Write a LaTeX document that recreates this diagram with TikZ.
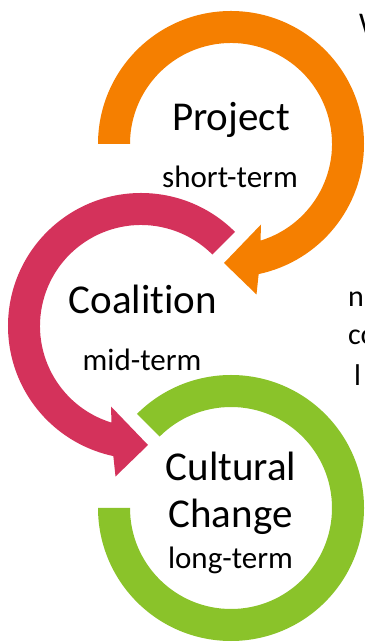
\documentclass[tikz,border=0pt]{standalone}
\usepackage{fontspec}
\setmainfont{Carlito}[Ligatures={NoCommon,NoContextual}]
\definecolor{orangec}{RGB}{245,127,0}
\definecolor{pinkc}{RGB}{212,50,91}
\definecolor{greenc}{RGB}{138,195,42}
\tikzset{
  bigtxt/.style={anchor=base, inner sep=0pt, font=\fontsize{41}{49}\selectfont},
  smalltxt/.style={anchor=base, inner sep=0pt, font=\fontsize{31}{37}\selectfont},
  sidetxt/.style={anchor=base west, inner sep=0pt, font=\fontsize{30}{36}\selectfont},
}
\begin{document}
\begin{tikzpicture}[x=1pt,y=1pt]
\useasboundingbox (0,0) rectangle (364,642);
\clip (0,0) rectangle (364,642);
% orange ring (Project)
\begin{scope}[shift={(231,498)}]
\fill[orangec] (180:133) arc[start angle=180, end angle=-78, radius=133pt]
  -- (25.5,-150.5) -- (-7,-119) -- (30,-80.5) -- (-73:101)
  arc[start angle=-73, end angle=180, radius=101pt] -- cycle;
\end{scope}
% pink ring (Coalition)
\begin{scope}[shift={(141,316)}]
\fill[pinkc] (45:133) arc[start angle=45, end angle=258, radius=133pt]
  -- (-25.5,-150.5) -- (7,-119) -- (-30,-80.5) -- (253:101)
  arc[start angle=253, end angle=45, radius=101pt] -- cycle;
\end{scope}
% green ring (Cultural Change)
\begin{scope}[shift={(231,134)}]
\fill[greenc] (135:133) arc[start angle=135, end angle=-180, radius=133pt]
  -- (-180:101) arc[start angle=-180, end angle=135, radius=101pt] -- cycle;
\end{scope}
% texts
\node[bigtxt] (proj) at (231,511) {Project};
\node[smalltxt] (projt) at (230,454) {short-term};
\node[bigtxt] (coal) at (143,328.5) {Coalition};
\node[smalltxt] (coalt) at (142,271) {mid-term};
\node[bigtxt] (cult) at (231,161.5) {Cultural};
\node[bigtxt] (chg) at (230.5,114.5) {Change};
\node[smalltxt] (chgt) at (230.5,73) {long-term};
% cropped side text
\node[sidetxt] (w) at (359,608) {W};
\node[sidetxt] (s1) at (348,335) {n};
\node[sidetxt] (s2) at (348,297) {co};
\node[sidetxt] (s3) at (354,256) {l};
\end{tikzpicture}
\end{document}
